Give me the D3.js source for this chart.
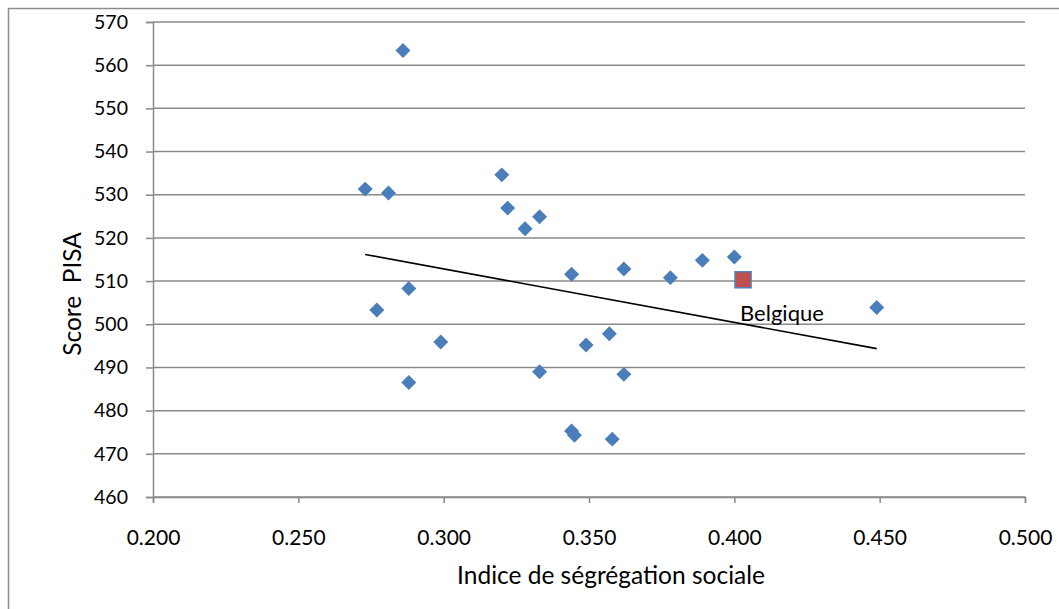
<!DOCTYPE html>
<html>
<head>
<meta charset="utf-8">
<script src="https://cdn.jsdelivr.net/npm/d3@7"></script>
<style>
  body { margin: 0; background: #fff; }
  text { font-family: Lato, "Open Sans", sans-serif; fill: #000; }
</style>
</head>
<body>
<svg id="chart" width="1059" height="609"></svg>
<script>
// indice de ségrégation sociale vs score PISA
var indices = [0.286, 0.273, 0.281, 0.320, 0.322, 0.333, 0.328, 0.344, 0.362, 0.378,
               0.389, 0.400, 0.449, 0.277, 0.288, 0.299, 0.288, 0.357, 0.349, 0.333,
               0.362, 0.344, 0.345, 0.358];
var scores = [563.4, 531.3, 530.4, 534.6, 526.9, 524.9, 522.1, 511.6, 512.8, 510.8,
              514.8, 515.6, 503.9, 503.3, 508.3, 495.9, 486.5, 497.8, 495.2, 489.0,
              488.4, 475.3, 474.3, 473.4];
var belgiqueIndex = 0.403;
var belgiqueScore = 510.3;
var belgiqueLabel = "Belgique";
var xTicks = [0.2, 0.25, 0.3, 0.35, 0.4, 0.45, 0.5];
var yTicks = [460, 470, 480, 490, 500, 510, 520, 530, 540, 550, 560, 570];

var svg = d3.select('#chart');
var pLeft = 153, pRight = 1025, pTop = 22, pBottom = 497;

// cadre
svg.append('rect').attr('x', 8.5).attr('y', 8.5).attr('width', 1060).attr('height', 620)
  .attr('fill', 'none').attr('stroke', '#8c8c8c').attr('stroke-width', 1.5);

var x = d3.scaleLinear().domain([0.2, 0.5]).range([pLeft, pRight]);
var y = d3.scaleLinear().domain([460, 570]).range([pBottom, pTop]);

// grille
svg.append('g').selectAll('line').data(yTicks).enter().append('line')
  .attr('x1', pLeft).attr('x2', pRight)
  .attr('y1', function(d) { return y(d); }).attr('y2', function(d) { return y(d); })
  .attr('stroke', '#8a8a8a').attr('stroke-width', 1.5);

var yAxis = svg.append('g').attr('transform', 'translate(' + pLeft + ',0)')
  .call(d3.axisLeft(y).tickValues(yTicks).tickSize(7).tickPadding(18).tickFormat(d3.format('d')));
yAxis.select('.domain').attr('stroke', '#8a8a8a').attr('stroke-width', 1.5);
yAxis.selectAll('.tick line').attr('stroke', '#8a8a8a').attr('stroke-width', 1.5);
yAxis.selectAll('text').attr('font-size', 19.5).attr('font-family', 'Lato, sans-serif');

var xAxis = svg.append('g').attr('transform', 'translate(0,' + pBottom + ')')
  .call(d3.axisBottom(x).tickValues(xTicks).tickSize(6).tickPadding(27).tickFormat(d3.format('.3f')));
xAxis.select('.domain').attr('stroke', '#8a8a8a').attr('stroke-width', 1.5);
xAxis.selectAll('.tick line').attr('stroke', '#8a8a8a').attr('stroke-width', 1.5);
xAxis.selectAll('text').attr('font-size', 21).attr('font-family', 'Lato, sans-serif');

// droite de régression (tous les pays)
var allX = indices.concat([belgiqueIndex]);
var allY = scores.concat([belgiqueScore]);
var mx = d3.mean(allX), my = d3.mean(allY);
var sxy = d3.sum(allX, function(v, i) { return (v - mx) * (allY[i] - my); });
var sxx = d3.sum(allX, function(v) { return (v - mx) * (v - mx); });
var slope = sxy / sxx, icpt = my - slope * mx;
var ext = d3.extent(allX);
svg.append('path')
  .datum(ext.map(function(v) { return [v, icpt + slope * v]; }))
  .attr('d', d3.line().x(function(d) { return x(d[0]); }).y(function(d) { return y(d[1]); }))
  .attr('stroke', '#000').attr('stroke-width', 1.6).attr('fill', 'none');

// points
var pts = indices.map(function(v, i) { return [v, scores[i]]; });
svg.append('g').selectAll('path').data(pts).enter().append('path')
  .attr('d', d3.symbol().type(d3.symbolSquare).size(112))
  .attr('transform', function(d) { return 'translate(' + x(d[0]) + ',' + y(d[1]) + ') rotate(45)'; })
  .attr('fill', '#4a7ebb');

svg.append('rect')
  .attr('x', x(belgiqueIndex) - 8).attr('y', y(belgiqueScore) - 8)
  .attr('width', 16).attr('height', 16)
  .attr('fill', '#c0504d').attr('stroke', '#4f81bd').attr('stroke-width', 1.5);

svg.append('text').attr('x', x(belgiqueIndex) - 3).attr('y', y(belgiqueScore) + 41)
  .attr('font-size', 22).text(belgiqueLabel);

// titres des axes
svg.append('text').attr('x', (pLeft + pRight) / 2 + 22).attr('y', 584)
  .attr('text-anchor', 'middle').attr('font-size', 24.5).text('Indice de ségrégation sociale');
svg.append('text').attr('transform', 'translate(81,294) rotate(-90)')
  .attr('text-anchor', 'middle').attr('font-size', 24.5).attr('xml:space', 'preserve').text('Score  PISA');
</script>
</body>
</html>
